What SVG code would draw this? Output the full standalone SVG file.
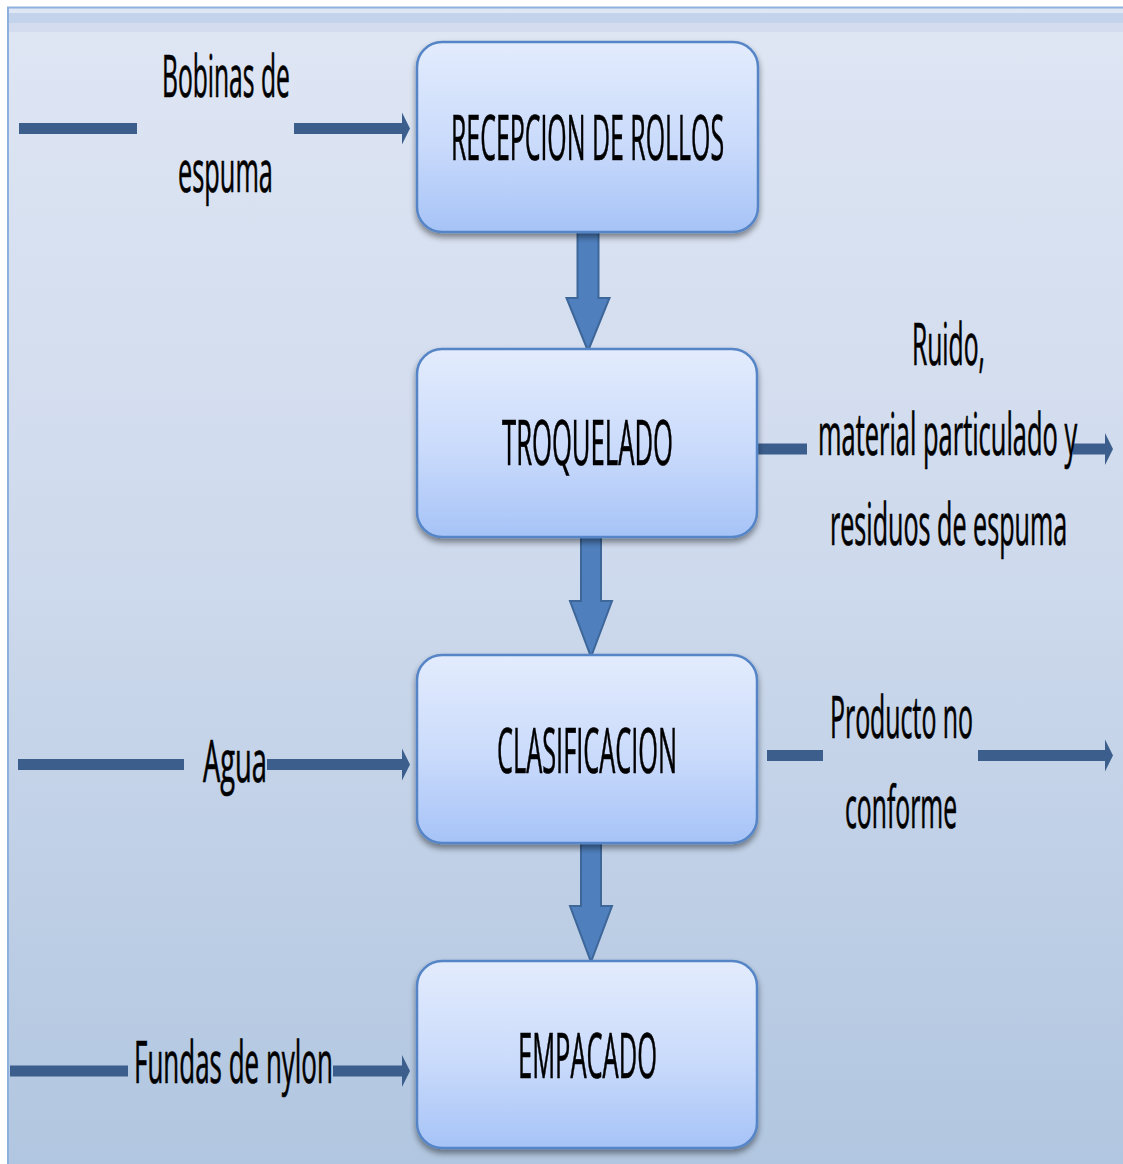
<svg xmlns="http://www.w3.org/2000/svg" width="1123" height="1164" viewBox="0 0 1123 1164">
  <defs>
    <linearGradient id="bg" x1="0" y1="0" x2="0" y2="1">
      <stop offset="0" stop-color="#dfe6f4"/>
      <stop offset="0.5" stop-color="#cdd9ec"/>
      <stop offset="1" stop-color="#b1c6e0"/>
    </linearGradient>
    <linearGradient id="boxFill" x1="0" y1="0" x2="0" y2="1">
      <stop offset="0" stop-color="#e3ecfd"/>
      <stop offset="0.55" stop-color="#c9dafb"/>
      <stop offset="1" stop-color="#a6c3f7"/>
    </linearGradient>
    <filter id="shadow" x="-10%" y="-10%" width="120%" height="130%">
      <feGaussianBlur in="SourceAlpha" stdDeviation="3"/>
      <feOffset dx="0" dy="4" result="b"/>
      <feComponentTransfer><feFuncA type="linear" slope="0.45"/></feComponentTransfer>
      <feMerge><feMergeNode/><feMergeNode in="SourceGraphic"/></feMerge>
    </filter>
    <marker id="head" markerUnits="userSpaceOnUse" markerWidth="8" markerHeight="32" refX="0" refY="16" orient="auto" overflow="visible">
      <path d="M0,0 L8,16 L0,32 Z" fill="#3b5e8c"/>
    </marker>
  </defs>
  <style>
    .box { fill: url(#boxFill); stroke: #5585c6; stroke-width: 2.5; }
    .flow { fill: #4f7fbc; stroke: #3d6699; stroke-width: 2; }
    .link { stroke: #3b5e8c; stroke-width: 11; fill: none; }
    .label { font-family: "Open Sans", "Liberation Sans", sans-serif; fill: #000; stroke: #000; stroke-width: 0.7; }
    .big { font-size: 63px; }
    .side { font-size: 58px; }
  </style>

  <!-- page background with frame -->
  <rect x="0" y="0" width="1123" height="1164" fill="#ffffff"/>
  <rect x="8" y="7" width="1115" height="1157" fill="url(#bg)"/>
  <rect x="8" y="13" width="1115" height="10" fill="#c4d3ec"/>
  <rect x="8" y="23" width="1115" height="9" fill="#d4ddef"/>
  <path d="M8,1164 V7.5 H1123" fill="none" stroke="#8eb0de" stroke-width="2"/>

  <!-- connectors -->
  <g id="connectors">
    <!-- vertical flow arrows between steps -->
    <path class="flow" d="M577.5,231 H598.5 V298 H609.5 L588,351 L566.5,298 H577.5 Z"/>
    <path class="flow" d="M581,537 H601 V601 H612 L591,657 L570,601 H581 Z"/>
    <path class="flow" d="M581,843 H601 V906 H612 L591,962 L570,906 H581 Z"/>

    <!-- inputs and outputs -->
    <line class="link" x1="19" y1="128.5" x2="137" y2="128.5"/>
    <line class="link" x1="294" y1="128.5" x2="402" y2="128.5" marker-end="url(#head)"/>

    <line class="link" x1="757" y1="449" x2="807" y2="449"/>
    <line class="link" x1="1073" y1="449" x2="1105" y2="449" marker-end="url(#head)"/>

    <line class="link" x1="18" y1="764.5" x2="184" y2="764.5"/>
    <line class="link" x1="267" y1="764.5" x2="402" y2="764.5" marker-end="url(#head)"/>

    <line class="link" x1="767" y1="755.5" x2="823" y2="755.5"/>
    <line class="link" x1="978" y1="755.5" x2="1105" y2="755.5" marker-end="url(#head)"/>

    <line class="link" x1="10" y1="1071" x2="128" y2="1071"/>
    <line class="link" x1="333" y1="1071" x2="402" y2="1071" marker-end="url(#head)"/>
  </g>

  <!-- process steps (labels are condensed to 45% width) -->
  <g id="recepcion" filter="url(#shadow)">
    <rect class="box" x="417" y="42" width="341" height="190" rx="25"/>
    <text class="label big" transform="translate(451,160) scale(0.45,1)" textLength="607" lengthAdjust="spacingAndGlyphs">RECEPCION DE ROLLOS</text>
  </g>
  <g id="troquelado" filter="url(#shadow)">
    <rect class="box" x="417" y="349" width="340" height="188" rx="25"/>
    <text class="label big" transform="translate(502,465) scale(0.45,1)" textLength="380" lengthAdjust="spacingAndGlyphs">TROQUELADO</text>
  </g>
  <g id="clasificacion" filter="url(#shadow)">
    <rect class="box" x="417" y="655" width="340" height="188" rx="25"/>
    <text class="label big" transform="translate(497,773) scale(0.45,1)" textLength="400" lengthAdjust="spacingAndGlyphs">CLASIFICACION</text>
  </g>
  <g id="empacado" filter="url(#shadow)">
    <rect class="box" x="417" y="961" width="340" height="187" rx="25"/>
    <text class="label big" transform="translate(518,1078) scale(0.45,1)" textLength="309" lengthAdjust="spacingAndGlyphs">EMPACADO</text>
  </g>

  <!-- input / output labels -->
  <g id="bobinas">
    <text class="label side" transform="translate(162,97) scale(0.45,1)" textLength="284" lengthAdjust="spacingAndGlyphs">Bobinas de</text>
    <text class="label side" transform="translate(178,192) scale(0.45,1)" textLength="211" lengthAdjust="spacingAndGlyphs">espuma</text>
  </g>
  <g id="residuos">
    <text class="label side" transform="translate(912,365) scale(0.45,1)" textLength="162" lengthAdjust="spacingAndGlyphs">Ruido,</text>
    <text class="label side" transform="translate(818,455) scale(0.45,1)" textLength="576" lengthAdjust="spacingAndGlyphs">material particulado y</text>
    <text class="label side" transform="translate(830,545) scale(0.45,1)" textLength="527" lengthAdjust="spacingAndGlyphs">residuos de espuma</text>
  </g>
  <g id="agua">
    <text class="label side" transform="translate(203,782) scale(0.45,1)" textLength="142" lengthAdjust="spacingAndGlyphs">Agua</text>
  </g>
  <g id="no-conforme">
    <text class="label side" transform="translate(830,738) scale(0.45,1)" textLength="318" lengthAdjust="spacingAndGlyphs">Producto no</text>
    <text class="label side" transform="translate(845,828) scale(0.45,1)" textLength="249" lengthAdjust="spacingAndGlyphs">conforme</text>
  </g>
  <g id="fundas">
    <text class="label side" transform="translate(134,1083) scale(0.45,1)" textLength="442" lengthAdjust="spacingAndGlyphs">Fundas de nylon</text>
  </g>
</svg>
